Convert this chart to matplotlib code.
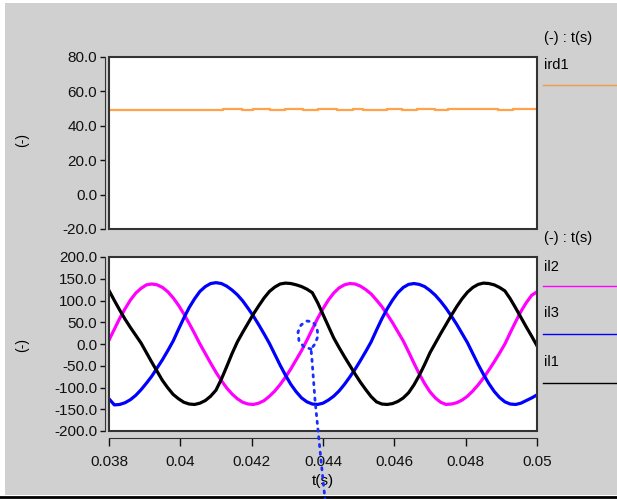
import numpy as np
import matplotlib
matplotlib.use('Agg')
import matplotlib.pyplot as plt
from matplotlib.patches import Rectangle
from matplotlib.lines import Line2D

plt.rcParams['font.family'] = ['Liberation Sans', 'DejaVu Sans']

# sample times (s)
t = [0.03800, 0.03815, 0.03830, 0.03845, 0.03860, 0.03875, 0.03890, 0.03905, 0.03920,
     0.03935, 0.03950, 0.03965, 0.03980, 0.03995, 0.04010, 0.04025, 0.04040, 0.04055,
     0.04070, 0.04085, 0.04100, 0.04115, 0.04130, 0.04145, 0.04160, 0.04175, 0.04190,
     0.04205, 0.04220, 0.04235, 0.04250, 0.04265, 0.04280, 0.04295, 0.04310, 0.04325,
     0.04340, 0.04355, 0.04370, 0.04385, 0.04400, 0.04415, 0.04430, 0.04445, 0.04460,
     0.04475, 0.04490, 0.04505, 0.04520, 0.04535, 0.04550, 0.04565, 0.04580, 0.04595,
     0.04610, 0.04625, 0.04640, 0.04655, 0.04670, 0.04685, 0.04700, 0.04715, 0.04730,
     0.04745, 0.04760, 0.04775, 0.04790, 0.04805, 0.04820, 0.04835, 0.04850, 0.04865,
     0.04880, 0.04895, 0.04910, 0.04925, 0.04940, 0.04955, 0.04970, 0.04985, 0.05000]
il2 = [9, 34, 59, 81, 101, 117, 128, 136, 138, 136, 130, 120, 106, 89, 69, 47, 24, 0,
       -22, -44, -65, -84, -101, -115, -126, -134, -138, -139, -136, -130, -120, -108,
       -93, -76, -57, -36, -15, 9, 34, 59, 81, 101, 117, 129, 136, 139, 138, 133, 125,
       115, 101, 86, 68, 49, 28, 7, -18, -44, -69, -91, -110, -124, -134, -139, -138,
       -135, -129, -120, -108, -94, -78, -60, -41, -21, 0, 26, 51, 75, 95, 112, 120]
il3 = [-126, -140, -139, -135, -128, -118, -105, -90, -74, -55, -36, -15, 7, 34, 60, 84,
       104, 121, 132, 139, 141, 139, 133, 124, 113, 99, 82, 64, 44, 23, 1, -24, -49, -72,
       -93, -110, -124, -133, -138, -139, -136, -129, -120, -108, -93, -76, -58, -38, -17,
       5, 32, 58, 81, 101, 118, 130, 137, 139, 137, 132, 123, 112, 98, 82, 64, 45, 24, 3,
       -22, -47, -70, -91, -109, -123, -133, -138, -139, -136, -130, -124, -117]
il1 = [123, 100, 78, 57, 38, 20, 2, -20, -42, -63, -84, -101, -116, -126, -134, -138,
       -139, -136, -130, -120, -106, -81, -52, -22, 5, 27, 48, 69, 88, 106, 121, 131, 138,
       140, 139, 136, 132, 126, 118, 95, 68, 41, 14, -8, -29, -49, -69, -88, -105, -121,
       -133, -138, -139, -137, -132, -124, -112, -94, -72, -47, -20, 2, 24, 45, 66, 86,
       104, 119, 130, 137, 140, 139, 136, 130, 122, 104, 83, 61, 39, 18, -4]

# ird1 step signal (upper panel)
t_ird = [0.038, 0.04120, 0.04172, 0.04205, 0.04251, 0.04293, 0.04345, 0.04387, 0.04440,
         0.04485, 0.04513, 0.04579, 0.04621, 0.04663, 0.04714, 0.04751, 0.04891, 0.04934,
         0.05]
ird1 = [49, 50, 49, 50, 49, 50, 49, 50, 49, 50, 49, 50, 49, 50, 49, 50, 49, 50, 50]

xticks = [0.038, 0.040, 0.042, 0.044, 0.046, 0.048, 0.050]
xlabels = ['0.038', '0.04', '0.042', '0.044', '0.046', '0.048', '0.05']
yticks_top = [-20, 0, 20, 40, 60, 80]
yticks_bot = [-200, -150, -100, -50, 0, 50, 100, 150, 200]

W, H = 617, 499
def P(x, y):
    return (x / W, 1 - y / H)

fig = plt.figure(figsize=(6.17, 4.99), dpi=100)
fig.patch.set_facecolor('white')
fig.add_artist(Rectangle(P(5, 495), 612 / W, 492 / H, transform=fig.transFigure,
                         facecolor='#d0d0d0', edgecolor='none', zorder=-10))
fig.add_artist(Line2D([0, 1], [1 - 497 / H] * 2, transform=fig.transFigure,
                      color='black', lw=2))

ax1 = fig.add_axes([109 / W, 1 - 229 / H, 428 / W, 172 / H])
ax2 = fig.add_axes([109 / W, 1 - 431 / H, 428 / W, 174 / H])

for ax in (ax1, ax2):
    ax.set_facecolor('white')
    for s in ('top', 'right', 'bottom'):
        ax.spines[s].set_visible(False)
    ax.spines['left'].set_position(('outward', 3))
    ax.spines['left'].set_color('#333333')
    ax.add_patch(Rectangle((0, 0), 1, 1, transform=ax.transAxes, fill=False,
                           edgecolor='#333333', lw=1.5, clip_on=False, zorder=5))
    ax.set_xlim(0.038, 0.05)
    ax.tick_params(axis='y', direction='out', length=3.5, width=1, pad=2,
                   labelsize=11, colors='#111111')

ax1.step(t_ird, ird1, where='post', color='#ffa24a', lw=1.6)
ax1.set_ylim(-20, 80)
ax1.set_yticks(yticks_top)
ax1.set_yticklabels([f'{v:.1f}' for v in yticks_top])
ax1.set_xticks([])

ax2.plot(t, il2, color='#ff00ff', lw=2.3, solid_joinstyle='round')
ax2.plot(t, il3, color='#0000ff', lw=2.3, solid_joinstyle='round')
ax2.plot(t, il1, color='black', lw=2.3, solid_joinstyle='round')
ax2.set_ylim(-200, 200)
ax2.set_yticks(yticks_bot)
ax2.set_yticklabels([f'{v:.1f}' for v in yticks_bot])
ax2.spines['bottom'].set_visible(True)
ax2.spines['bottom'].set_position(('outward', 5))
ax2.spines['bottom'].set_color('#333333')
ax2.set_xticks(xticks)
ax2.set_xticklabels(xlabels)
ax2.tick_params(axis='x', direction='out', length=5.5, width=1, pad=7,
                labelsize=11, colors='#111111')

fig.text(*P(22, 140), '(-)', rotation=90, ha='center', va='center', fontsize=10)
fig.text(*P(22, 345), '(-)', rotation=90, ha='center', va='center', fontsize=10)
fig.text(*P(323, 481), 't(s)', ha='center', va='center', fontsize=11)

# legend area on the right
fig.text(*P(544, 38), '(-) : t(s)', ha='left', va='center', fontsize=10.5)
fig.text(*P(544, 65), 'ird1', ha='left', va='center', fontsize=10.5)
fig.text(*P(544, 238), '(-) : t(s)', ha='left', va='center', fontsize=10.5)
leg = [('il2', 267, 286, '#ff00ff'), ('il3', 313, 334, '#0000ff'), ('il1', 362, 383, 'black')]
fig.add_artist(Line2D([543 / W, 1], [1 - 85 / H] * 2, transform=fig.transFigure,
                      color='#f39a45', lw=1))
for name, ty, ly, c in leg:
    fig.text(*P(544, ty), name, ha='left', va='center', fontsize=10.5)
    fig.add_artist(Line2D([543 / W, 1], [1 - ly / H] * 2, transform=fig.transFigure,
                          color=c, lw=1))

# hand-drawn dotted marker
loop_x = [311, 304, 299, 298, 301, 307, 313, 317, 318, 315, 311, 312, 315, 319, 322, 325]
loop_y = [349, 347, 341, 332, 325, 321, 322, 328, 336, 344, 349, 360, 400, 440, 470, 499]
fig.add_artist(Line2D([x / W for x in loop_x], [1 - y / H for y in loop_y],
                      transform=fig.transFigure, color='#1a2cff', lw=2,
                      linestyle=(0, (0.8, 2.0)), dash_capstyle='round', zorder=20))

fig.savefig('out.png', dpi=100)
